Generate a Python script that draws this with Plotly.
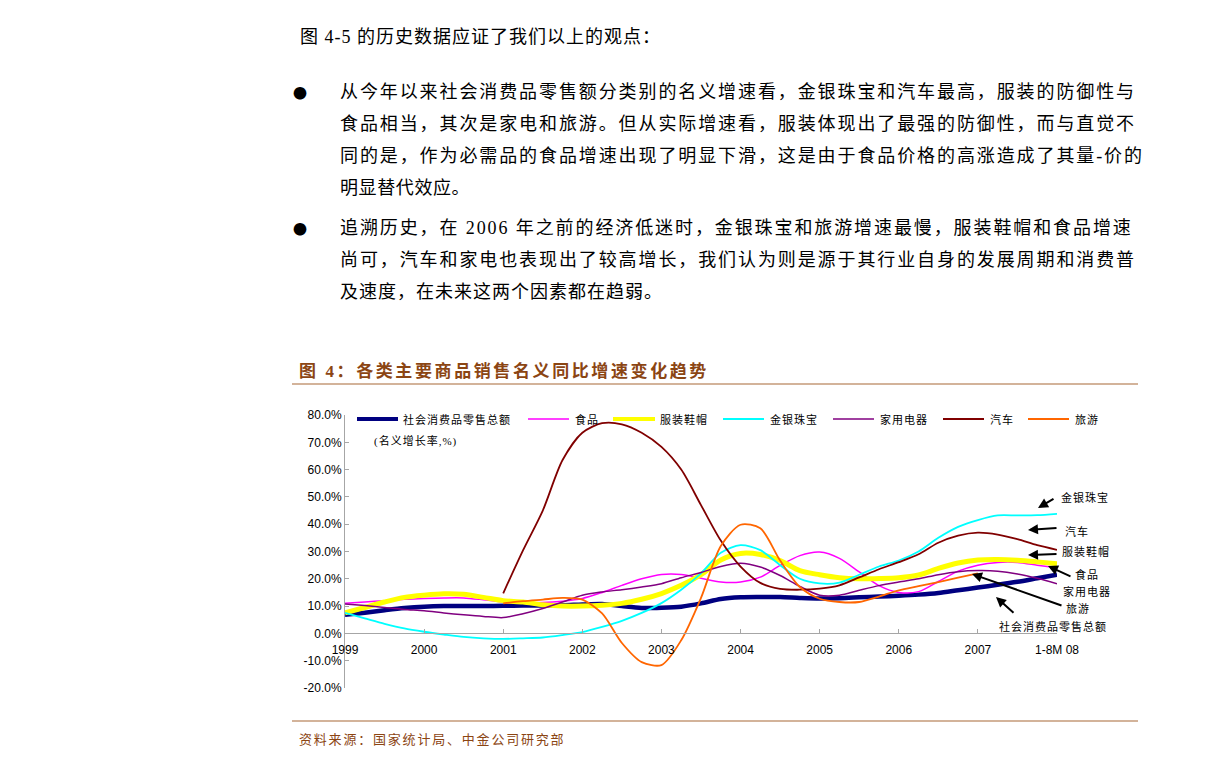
import plotly.graph_objects as go

# ---------------- data ----------------
t = [1999.00, 1999.25, 1999.50, 1999.75, 2000.00, 2000.25, 2000.50, 2000.75,
     2001.00, 2001.25, 2001.50, 2001.75, 2002.00, 2002.25, 2002.50, 2002.75,
     2003.00, 2003.25, 2003.50, 2003.75, 2004.00, 2004.25, 2004.50, 2004.75,
     2005.00, 2005.25, 2005.50, 2005.75, 2006.00, 2006.25, 2006.50, 2006.75,
     2007.00, 2007.25, 2007.50, 2007.75, 2008.00]

tick_vals = [1999, 2000, 2001, 2002, 2003, 2004, 2005, 2006, 2007, 2008]
tick_text = ["1999", "2000", "2001", "2002", "2003", "2004", "2005", "2006", "2007", "1-8M 08"]
y_ticks = [-20, -10, 0, 10, 20, 30, 40, 50, 60, 70, 80]
y_tick_text = ["-20.0%", "-10.0%", "0.0%", "10.0%", "20.0%", "30.0%", "40.0%",
               "50.0%", "60.0%", "70.0%", "80.0%"]

retail_total = [6.8, 7.6, 8.5, 9.3, 9.8, 10.0, 10.0, 10.0,
                10.1, 10.2, 10.2, 10.3, 10.6, 10.8, 10.0, 9.3,
                9.4, 9.8, 11.0, 12.6, 13.2, 13.3, 13.3, 13.0,
                12.8, 12.9, 13.2, 13.5, 13.8, 14.2, 14.8, 15.8,
                16.8, 17.8, 18.9, 20.2, 21.5]
food = [11.0, 11.5, 12.0, 12.5, 12.8, 13.0, 13.0, 12.3,
        11.5, 11.3, 11.3, 11.8, 12.8, 15.0, 17.6, 20.0,
        21.6, 21.6, 20.2, 18.8, 18.8, 20.6, 24.9, 28.5,
        29.8, 27.5, 22.5, 17.5, 15.0, 15.3, 19.0, 22.8,
        25.0, 26.0, 26.0, 25.0, 24.0]
clothing = [7.5, 9.5, 11.5, 13.2, 14.0, 14.5, 14.3, 13.2,
            12.0, 11.5, 10.5, 10.0, 10.0, 10.3, 11.0, 12.5,
            14.6, 17.6, 21.5, 26.9, 29.3, 28.9, 26.7, 23.0,
            21.5, 20.4, 20.0, 20.1, 20.4, 21.4, 23.8, 25.8,
            26.9, 27.1, 26.8, 26.2, 25.5]
jewelry = [7.5, 5.5, 3.5, 1.8, 0.6, -0.4, -1.3, -1.8,
           -2.0, -1.8, -1.5, -0.6, 0.5, 2.4, 4.6, 7.5,
           11.1, 16.0, 22.0, 29.5, 32.3, 30.5, 25.0, 20.0,
           18.3, 18.6, 21.5, 24.5, 26.7, 30.0, 35.0, 39.0,
           41.5, 43.2, 43.2, 43.3, 43.8]
appliance = [10.8, 10.2, 9.5, 8.8, 8.3, 7.5, 6.8, 6.2,
             5.8, 7.2, 9.1, 11.5, 14.0, 15.2, 16.0, 17.0,
             18.2, 20.4, 22.3, 24.5, 25.7, 24.3, 21.2, 17.2,
             14.0, 14.0, 15.8, 17.5, 18.8, 20.0, 21.5, 22.6,
             23.0, 22.8, 21.8, 20.2, 18.2]
auto = [None, None, None, None, None, None, None, None,
        14.7, 30.4, 45.0, 63.5, 73.5, 77.0, 76.6, 73.5,
        68.3, 60.0, 47.0, 34.0, 24.5, 18.5, 16.3, 16.0,
        16.4, 17.6, 20.5, 23.5, 26.1, 29.0, 33.2, 35.8,
        36.9, 36.2, 34.5, 32.3, 30.6]
travel = [None, None, None, None, None, None, None, None,
          11.0, 11.8, 12.4, 13.0, 12.4, 7.3, -3.5, -10.5,
          -11.6, -2.5, 13.0, 32.0, 39.8, 38.5, 26.7, 17.0,
          12.7, 11.5, 11.5, 13.5, 15.8, 17.3, 18.8, 20.4,
          22.0, None, None, None, None]

series_names = ["社会消费品零售总额", "食品", "服装鞋帽", "金银珠宝", "家用电器", "汽车", "旅游"]
series_values = [retail_total, food, clothing, jewelry, appliance, auto, travel]
series_colors = ["#000080", "#FF00FF", "#FFFF00", "#00FFFF", "#800080", "#800000", "#FF6600"]
series_widths = [4.5, 1.5, 5, 1.8, 1.5, 1.8, 1.8]

intro_line = "图 4-5 的历史数据应证了我们以上的观点："
para1 = ["从今年以来社会消费品零售额分类别的名义增速看，金银珠宝和汽车最高，服装的防御性与",
         "食品相当，其次是家电和旅游。但从实际增速看，服装体现出了最强的防御性，而与直觉不",
         "同的是，作为必需品的食品增速出现了明显下滑，这是由于食品价格的高涨造成了其量-价的",
         "明显替代效应。"]
para2 = ["追溯历史，在 2006 年之前的经济低迷时，金银珠宝和旅游增速最慢，服装鞋帽和食品增速",
         "尚可，汽车和家电也表现出了较高增长，我们认为则是源于其行业自身的发展周期和消费普",
         "及速度，在未来这两个因素都在趋弱。"]
chart_title = "图 4：各类主要商品销售名义同比增速变化趋势"
source_text = "资料来源：国家统计局、中金公司研究部"
unit_text = "(名义增长率,%)"

# ---------------- layout helpers ----------------
W, H = 1224, 767
L, R, T, B = 345, 1057, 415, 688


def px(x):
    return (x - L) / (R - L)


def py(y):
    return (B - y) / (B - T)


CJK = "Liberation Serif, Noto Sans CJK SC"
CJKONLY = "Noto Sans CJK SC"
SANS = "Liberation Sans, Arial, sans-serif"
BROWN = "#8B4513"

fig = go.Figure()
for name, vals, col, w in zip(series_names, series_values, series_colors, series_widths):
    fig.add_trace(go.Scatter(x=t, y=vals, mode="lines", name=name,
                             line=dict(color=col, width=w, shape="spline", smoothing=0.8),
                             connectgaps=False, showlegend=False, hoverinfo="skip"))

annotations = []
shapes = []


def text(x, y, s, size, color="black", xanchor="left", family=CJK, spacing=None, bold=False):
    if spacing is not None:
        s = "<span style='letter-spacing:%.2fpx'>%s</span>" % (spacing, s)
    if bold:
        s = "<b>" + s + "</b>"
    annotations.append(dict(x=px(x), y=py(y), xref="paper", yref="paper", text=s,
                            showarrow=False, xanchor=xanchor, yanchor="middle",
                            font=dict(size=size, color=color, family=family)))


# page text
text(298, 37, intro_line, 18, spacing=1.0)
for i, line in enumerate(para1):
    text(338, 92 + 32 * i, line, 18, spacing=(1.9 if i < 3 else 0.6))
for i, line in enumerate(para2):
    text(338, 228 + 32 * i, line, 18, spacing=(1.9 if i < 2 else 1.0))
text(300, 92, "●", 14, xanchor="center", family=CJKONLY)
text(300, 228, "●", 14, xanchor="center", family=CJKONLY)

# chart title / source
text(297, 371, chart_title, 17, color=BROWN, spacing=2.6, bold=True)
shapes.append(dict(type="line", xref="paper", yref="paper", x0=px(292), x1=px(1138),
                   y0=py(384), y1=py(384), line=dict(color="#C49A78", width=1.5)))
shapes.append(dict(type="line", xref="paper", yref="paper", x0=px(292), x1=px(1138),
                   y0=py(721), y1=py(721), line=dict(color="#C49A78", width=1.5)))
text(297, 739, source_text, 13, color=BROWN, spacing=1.8)

# manual legend
leg_line = [(357, 398), (528, 569), (613, 655), (723, 764), (833, 874), (943, 984), (1028, 1069)]
leg_text = [401, 573, 658, 768, 878, 988, 1073]
for (x0, x1), tx, name, col, w in zip(leg_line, leg_text, series_names, series_colors, series_widths):
    shapes.append(dict(type="line", xref="paper", yref="paper", x0=px(x0), x1=px(x1),
                       y0=py(419), y1=py(419), line=dict(color=col, width=min(w, 4))))
    text(tx, 419, name, 11, spacing=1.0)
text(372, 441, unit_text, 11, spacing=1.0)

# right-side labels
labels = [("金银珠宝", 1085, 497), ("汽车", 1077, 531), ("服装鞋帽", 1086, 551),
          ("食品", 1087, 574), ("家用电器", 1087, 591), ("旅游", 1078, 608),
          ("社会消费品零售总额", 1053, 626)]
for s, x, y in labels:
    text(x, y, s, 11, xanchor="center", spacing=1.0)

# arrows (head -> tail in pixels)
arrows = [((1038, 508), (1055, 498)), ((1028, 530), (1058, 528)), ((1028, 555), (1058, 554)),
          ((1048, 566), (1072, 577)), ((972, 574), (1063, 606)), ((996, 597), (1015, 614))]
for (hx, hy), (tx_, ty_) in arrows:
    annotations.append(dict(x=px(hx), y=py(hy), xref="paper", yref="paper", text="",
                            showarrow=True, ax=tx_ - hx, ay=ty_ - hy, axref="pixel", ayref="pixel",
                            arrowhead=2, arrowsize=1, arrowwidth=2, arrowcolor="black", standoff=0))

fig.update_layout(
    width=W, height=H,
    margin=dict(l=L, r=W - R, t=T, b=H - B, pad=0),
    paper_bgcolor="white", plot_bgcolor="white",
    showlegend=False,
    annotations=annotations, shapes=shapes,
    xaxis=dict(range=[1999, 2008], tickvals=tick_vals, ticktext=tick_text,
               anchor="free", position=0.2, showline=True, linecolor="#A6A6A6", linewidth=1,
               ticks="inside", ticklen=4, tickcolor="#A6A6A6", showgrid=False, zeroline=False,
               tickfont=dict(family=SANS, size=12, color="black"), ticklabelstandoff=5),
    yaxis=dict(range=[-20, 80], tickvals=y_ticks, ticktext=y_tick_text,
               showline=True, linecolor="#A6A6A6", linewidth=1, ticks="inside", ticklen=4,
               tickcolor="#A6A6A6", showgrid=False, zeroline=False,
               tickfont=dict(family=SANS, size=12, color="black")),
)

fig.write_html("out.html")
